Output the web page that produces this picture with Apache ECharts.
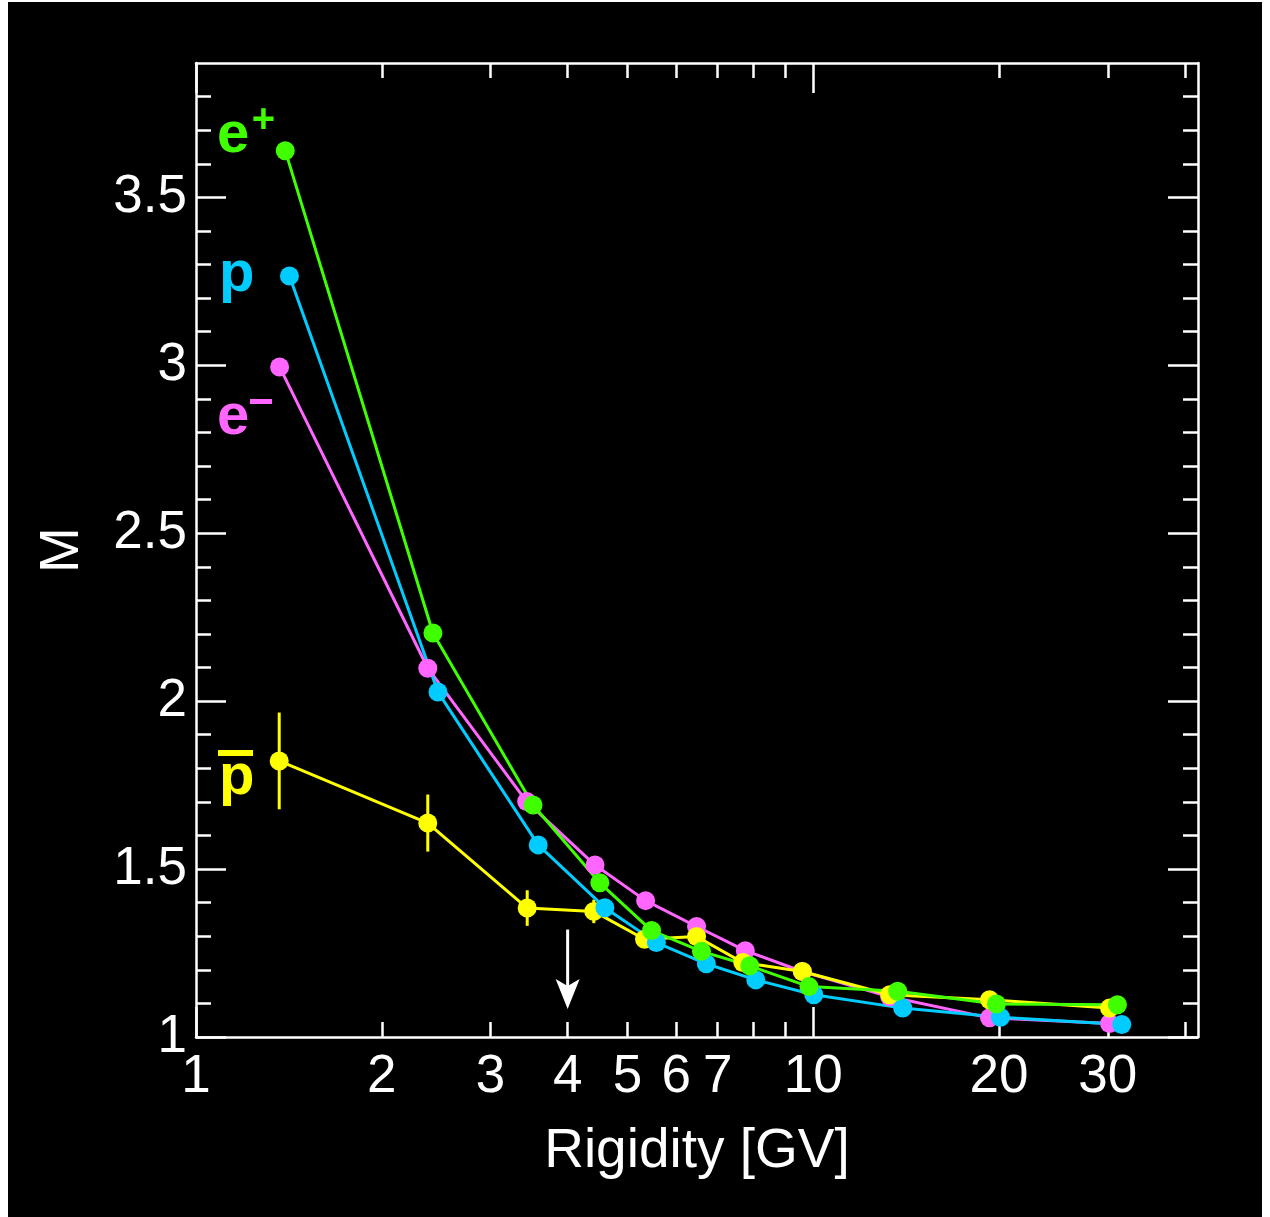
<!DOCTYPE html>
<html><head><meta charset="utf-8">
<script src="https://cdn.jsdelivr.net/npm/echarts@6/dist/echarts.min.js"></script>
<style>
html,body{margin:0;padding:0;background:#fff;}
#bg{position:absolute;left:8px;top:2px;width:1254px;height:1215px;background:#000;}
#chart{position:absolute;left:0;top:0;width:1270px;height:1217px;}
</style></head><body>
<div id="bg"></div><div id="chart"></div>
<script>
// ---- data ----
const ePlusX  = [1.395, 2.42, 3.515, 4.51, 5.47, 6.59, 7.89, 9.84, 13.7, 19.8, 31.1];
const ePlusY  = [3.639, 2.203, 1.691, 1.459, 1.317, 1.255, 1.212, 1.150, 1.136, 1.098, 1.096];
const protonX = [1.417, 2.466, 3.584, 4.596, 5.57, 6.71, 8.07, 10.02, 13.96, 20.1, 31.6];
const protonY = [3.266, 2.027, 1.572, 1.385, 1.281, 1.218, 1.170, 1.126, 1.086, 1.059, 1.037];
const eMinusX = [1.366, 2.374, 3.433, 4.43, 5.35, 6.47, 7.76, 9.6, 13.3, 19.3, 30.2];
const eMinusY = [2.995, 2.098, 1.701, 1.512, 1.406, 1.329, 1.257, 1.195, 1.120, 1.057, 1.040];
const pbarX   = [1.364, 2.374, 3.44, 4.41, 5.33, 6.47, 7.69, 9.6, 13.3, 19.3, 30.2];
const pbarY   = [1.822, 1.637, 1.384, 1.374, 1.291, 1.299, 1.222, 1.195, 1.126, 1.111, 1.086];
const pbarErr = [0.144, 0.085, 0.053, 0.035, 0.02, 0.02, 0.02, 0.02, 0.02, 0.02, 0.02];

const xMajorTicks = [1, 10];
const xMinorTicks = [2, 3, 4, 5, 6, 7, 8, 9, 20, 30, 40];
const xTickLabels = [1, 2, 3, 4, 5, 6, 7, 10, 20, 30];
const yMajorTicks = [1, 1.5, 2, 2.5, 3, 3.5];
const yMinorTicks = [1.1, 1.2, 1.3, 1.4, 1.6, 1.7, 1.8, 1.9, 2.1, 2.2, 2.3, 2.4, 2.6, 2.7, 2.8, 2.9, 3.1, 3.2, 3.3, 3.4, 3.6, 3.7, 3.8];
const yTickLabels = [1, 1.5, 2, 2.5, 3, 3.5];
const arrowX = 4;
const arrowFromY = 1.32;
const arrowToY = 1.083;

const X_MIN = 1, X_MAX = 42, Y_MIN = 1, Y_MAX = 3.9;
const FONT = '"Liberation Sans", Arial, Helvetica, sans-serif';
const WHITE = '#ffffff';
const C_EPLUS = '#40ff00', C_P = '#00ccff', C_EMINUS = '#ff66ff', C_PBAR = '#ffff00';

const zip = (xs, ys) => xs.map((x, i) => [x, ys[i]]);

function xAxisDef(position, ticks, len, showLine, labels, name) {
  return {
    type: 'log', logBase: 10, min: X_MIN, max: X_MAX, position: position,
    axisLine: { show: showLine, onZero: false, lineStyle: { color: WHITE, width: 2.5 } },
    axisTick: { show: true, inside: true, length: len, customValues: ticks, lineStyle: { color: WHITE, width: 2.5 } },
    axisLabel: labels ? { show: true, customValues: labels, color: WHITE, fontSize: 53, fontFamily: FONT, margin: 14,
      formatter: v => String(Math.round(v)) } : { show: false },
    splitLine: { show: false }, minorTick: { show: false }, minorSplitLine: { show: false },
    name: name || '', nameLocation: 'middle', nameGap: 87,
    nameTextStyle: { color: WHITE, fontSize: 55, fontFamily: FONT }
  };
}
function yAxisDef(position, ticks, len, showLine, labels, name) {
  return {
    type: 'value', min: Y_MIN, max: Y_MAX, position: position,
    axisLine: { show: showLine, onZero: false, lineStyle: { color: WHITE, width: 2.5 } },
    axisTick: { show: true, inside: true, length: len, customValues: ticks, lineStyle: { color: WHITE, width: 2.5 } },
    axisLabel: labels ? { show: true, customValues: labels, color: WHITE, fontSize: 53, fontFamily: FONT, margin: 9,
      formatter: v => String(Math.round(v * 10) / 10) } : { show: false },
    splitLine: { show: false },
    name: name || '', nameLocation: 'middle', nameGap: 106, nameRotate: 90,
    nameTextStyle: { color: WHITE, fontSize: 55, fontFamily: FONT }
  };
}

function lineSeries(name, xs, ys, color) {
  return {
    name: name, type: 'line', xAxisIndex: 0, yAxisIndex: 0,
    data: zip(xs, ys), symbol: 'circle', symbolSize: 19, showSymbol: true,
    lineStyle: { color: color, width: 3 }, itemStyle: { color: color },
    emphasis: { disabled: true }, animation: false
  };
}

const chart = echarts.init(document.getElementById('chart'), null, { renderer: 'canvas' });
const labelFont = 'bold 58px ' + FONT;
chart.setOption({
  backgroundColor: 'transparent',
  animation: false,
  grid: { left: 196, right: 72, top: 63, bottom: 180, containLabel: false, outerBoundsMode: 'none' },
  xAxis: [
    xAxisDef('bottom', xMajorTicks, 30, true, xTickLabels, 'Rigidity [GV]'),
    xAxisDef('bottom', xMinorTicks, 15, false, null),
    xAxisDef('top', xMajorTicks, 30, true, null),
    xAxisDef('top', xMinorTicks, 15, false, null)
  ],
  yAxis: [
    yAxisDef('left', yMajorTicks, 30, true, yTickLabels, 'M'),
    yAxisDef('left', yMinorTicks, 15, false, null),
    yAxisDef('right', yMajorTicks, 30, true, null),
    yAxisDef('right', yMinorTicks, 15, false, null)
  ],
  series: [
    lineSeries('e-', eMinusX, eMinusY, C_EMINUS),
    {
      name: 'pbar-err', type: 'custom', xAxisIndex: 0, yAxisIndex: 0,
      data: pbarX.map((x, i) => [x, pbarY[i], pbarErr[i]]),
      encode: { x: 0, y: 1 },
      renderItem: function (params, api) {
        const x = api.value(0), y = api.value(1), e = api.value(2);
        const a = api.coord([x, y - e]), b = api.coord([x, y + e]);
        return { type: 'line', shape: { x1: a[0], y1: a[1], x2: b[0], y2: b[1] },
          style: { stroke: C_PBAR, lineWidth: 3 } };
      },
      animation: false, silent: true
    },
    lineSeries('pbar', pbarX, pbarY, C_PBAR),
    lineSeries('p', protonX, protonY, C_P),
    lineSeries('e+', ePlusX, ePlusY, C_EPLUS),
    {
      name: 'arrow', type: 'custom', xAxisIndex: 0, yAxisIndex: 0,
      data: [[arrowX, arrowFromY, arrowToY]],
      encode: { x: 0, y: 1 },
      renderItem: function (params, api) {
        const top = api.coord([api.value(0), api.value(1)]);
        const tip = api.coord([api.value(0), api.value(2)]);
        const x = tip[0], y = tip[1];
        return { type: 'group', children: [
          { type: 'line', shape: { x1: top[0], y1: top[1], x2: x, y2: y - 20 }, style: { stroke: WHITE, lineWidth: 3 } },
          { type: 'polygon', shape: { points: [[x, y], [x - 12, y - 30], [x, y - 23], [x + 12, y - 30]] }, style: { fill: WHITE } }
        ] };
      },
      animation: false, silent: true
    }
  ],
  graphic: [
    { type: 'text', x: 217, y: 136, style: { text: 'e', font: labelFont, fill: C_EPLUS, align: 'left', verticalAlign: 'middle' } },
    { type: 'text', x: 263.5, y: 121, style: { text: '+', font: 'bold 40px ' + FONT, fill: C_EPLUS, align: 'center', verticalAlign: 'middle' } },
    { type: 'text', x: 219, y: 275, style: { text: 'p', font: labelFont, fill: C_P, align: 'left', verticalAlign: 'middle' } },
    { type: 'text', x: 217, y: 418, style: { text: 'e', font: labelFont, fill: C_EMINUS, align: 'left', verticalAlign: 'middle' } },
    { type: 'rect', shape: { x: 250, y: 399, width: 22, height: 5 }, style: { fill: C_EMINUS } },
    { type: 'text', x: 219, y: 778, style: { text: 'p', font: labelFont, fill: C_PBAR, align: 'left', verticalAlign: 'middle' } },
    { type: 'rect', shape: { x: 218, y: 750, width: 35, height: 6 }, style: { fill: C_PBAR } }
  ]
});
</script>
</body></html>
